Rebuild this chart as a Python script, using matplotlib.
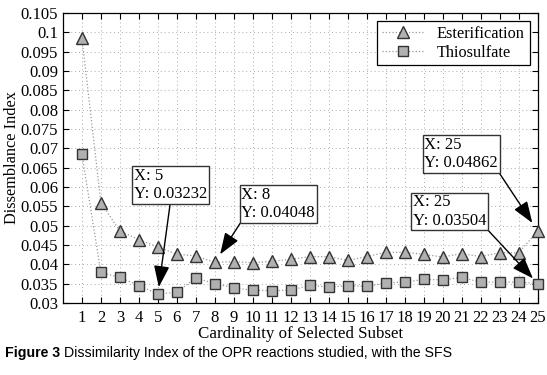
import matplotlib
matplotlib.use('Agg')
import matplotlib.pyplot as plt

# Values
cardinality = list(range(1, 26))
esterification = [0.0986, 0.0560, 0.0486, 0.0464, 0.0445, 0.0426, 0.0422, 0.04048, 0.0407,
                  0.0404, 0.0408, 0.0413, 0.0420, 0.0420, 0.0410, 0.0420, 0.0431, 0.0431,
                  0.0426, 0.0419, 0.0428, 0.0420, 0.0430, 0.0430, 0.04862]
thiosulfate = [0.0685, 0.0379, 0.0366, 0.0345, 0.03232, 0.0328, 0.0365, 0.0350, 0.0339,
               0.0333, 0.0332, 0.0333, 0.0346, 0.0341, 0.0345, 0.0343, 0.0352, 0.0354,
               0.0361, 0.0360, 0.0366, 0.0354, 0.0354, 0.0354, 0.03504]
y_ticks = [0.03, 0.035, 0.04, 0.045, 0.05, 0.055, 0.06, 0.065, 0.07, 0.075, 0.08,
           0.085, 0.09, 0.095, 0.1, 0.105]
y_tick_labels = ['0.03', '0.035', '0.04', '0.045', '0.05', '0.055', '0.06', '0.065', '0.07',
                 '0.075', '0.08', '0.085', '0.09', '0.095', '0.1', '0.105']

# datatips: (x, y, series, text box centre, arrow start corner)
tips = [
    (5, 0.03232, 'sq', (5.66, 0.0606), (0.5, 0.0)),
    (8, 0.04048, 'tri', (11.34, 0.0556), (0.0, 0.0)),
    (25, 0.04862, 'tri', (20.97, 0.0686), (1.0, 0.0)),
    (25, 0.03504, 'sq', (20.37, 0.0537), (1.0, 0.0)),
]

serif = ['Liberation Serif', 'DejaVu Serif']
plt.rcParams['font.family'] = serif

fig = plt.figure(figsize=(5.47, 3.75), dpi=100)
ax = fig.add_axes([0.115, 0.192, 0.868, 0.773])

ax.plot(cardinality, esterification, linestyle=':', color='#999999', linewidth=0.9,
        marker='^', markersize=8.5, markerfacecolor='#b0b0b0', markeredgecolor='#333333',
        markeredgewidth=1.0, label='Esterification', clip_on=False, zorder=3)
ax.plot(cardinality, thiosulfate, linestyle=':', color='#999999', linewidth=0.9,
        marker='s', markersize=6.5, markerfacecolor='#b0b0b0', markeredgecolor='#333333',
        markeredgewidth=1.0, label='Thiosulfate', clip_on=False, zorder=3)

ax.set_xlim(0, 25)
ax.set_ylim(0.03, 0.105)
ax.set_xticks(cardinality)
ax.set_yticks(y_ticks)
ax.set_yticklabels(y_tick_labels)
ax.tick_params(direction='in', top=True, right=True, length=4, width=0.8, labelsize=12)
ax.tick_params(axis='x', pad=5)
ax.grid(True, linestyle=(0, (1, 3)), color='#aaaaaa', linewidth=0.7)
for s in ax.spines.values():
    s.set_linewidth(0.9)

ax.set_xlabel('Cardinality of Selected Subset', fontsize=12.2, va='center')
ax.xaxis.set_label_coords(0.5, -31 / 290)
ax.set_ylabel('Dissemblance Index', fontsize=11.7, va='center')
ax.yaxis.set_label_coords(-51 / 475, 0.5)

leg = ax.legend(loc='upper right', fancybox=False, edgecolor='black', framealpha=1,
                fontsize=11.7, borderaxespad=0.5, handlelength=2.6, labelspacing=0.15,
                borderpad=0.3)
leg.get_frame().set_linewidth(0.9)

for x, y, kind, box, corner in tips:
    shrink = 7 if kind == 'tri' else 5
    ax.annotate('X: %d\nY: %s' % (x, str(y)), xy=(x, y), xytext=box,
                ha='center', va='center', multialignment='left', fontsize=12,
                linespacing=1.2,
                bbox=dict(boxstyle='square,pad=0.1', facecolor='white', edgecolor='#333333',
                          linewidth=1.0),
                arrowprops=dict(arrowstyle='-|>,head_length=1.1,head_width=0.4', color='black',
                                linewidth=1.0, relpos=corner, shrinkA=0, shrinkB=shrink),
                zorder=5, annotation_clip=False)

# caption below the axes
fig.canvas.draw()
cap1 = fig.text(0.01, 0.059, 'Figure 3', fontsize=10.2, fontweight='bold',
                family=['Liberation Sans', 'DejaVu Sans'], va='center')
fig.canvas.draw()
bb = cap1.get_window_extent()
x2 = (bb.x1 + 3) / fig.bbox.width
fig.text(x2, 0.059, 'Dissimilarity Index of the OPR reactions studied, with the SFS',
         fontsize=10.2, family=['Liberation Sans', 'DejaVu Sans'], va='center')

fig.savefig('out.png', dpi=100)
